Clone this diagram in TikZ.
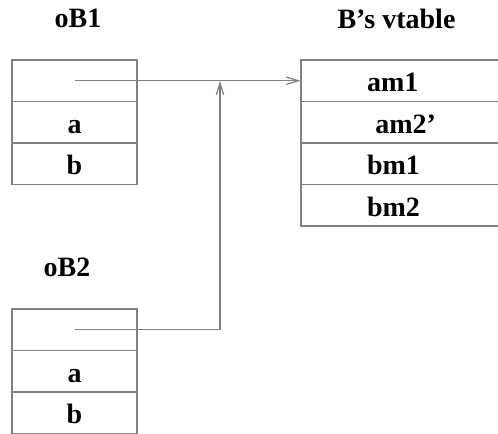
\documentclass[tikz,border=0pt]{standalone}
\usepackage{fontspec}
\setmainfont{Liberation Serif}
\usetikzlibrary{arrows.meta}
\definecolor{linegray}{RGB}{128,128,128}
\tikzset{
  cell/.style={draw=linegray, line width=0.9pt, inner sep=0pt,
    minimum width=93.75pt, minimum height=31.125pt,
    text height=16.5pt, text depth=0pt, font=\fontsize{21}{24}\selectfont\bfseries},
  slot/.style={cell, minimum width=179.25pt, text width=80.25pt, align=left},
  title/.style={anchor=base, inner sep=0pt, font=\fontsize{21}{24}\selectfont\bfseries},
  ptr/.style={draw=linegray, line width=0.9pt, -{Straight Barb[length=9pt,width=5.5pt]}}
}
\begin{document}
\begin{tikzpicture}[x=0.75pt, y=-0.75pt]
    \useasboundingbox (0,0) rectangle (498,433);
    % object oB1
    \node[title] (ob1) at (78,27.7) {oB1};
    \node[cell] (ob1-ptr) at (74.5,80.75) {};
    \node[cell] (ob1-a) at (74.5,122.25) {a};
    \node[cell] (ob1-b) at (74.5,163.75) {b};
    % object oB2
    \node[title] (ob2) at (67,276.7) {oB2};
    \node[cell] (ob2-ptr) at (74.5,329.75) {};
    \node[cell] (ob2-a) at (74.5,371.25) {a};
    \node[cell] (ob2-b) at (74.5,412.75) {b};
    % the vtable of B
    \node[title] (vt) at (396.5,28) {B’s vtable};
    \foreach \lbl [count=\i] in {am1, \hspace*{0.3em}am2’, bm1, bm2}
        \node[slot] (vt-\i) at (420.5,39.25+41.5*\i) {\lbl};
    % vptr links
    \coordinate (join) at (220,80.75);
    \draw[ptr] (ob1-ptr.center) -- (vt-1.west);
    \draw[ptr] (ob2-ptr.center) -| (join);
\end{tikzpicture}
\end{document}
